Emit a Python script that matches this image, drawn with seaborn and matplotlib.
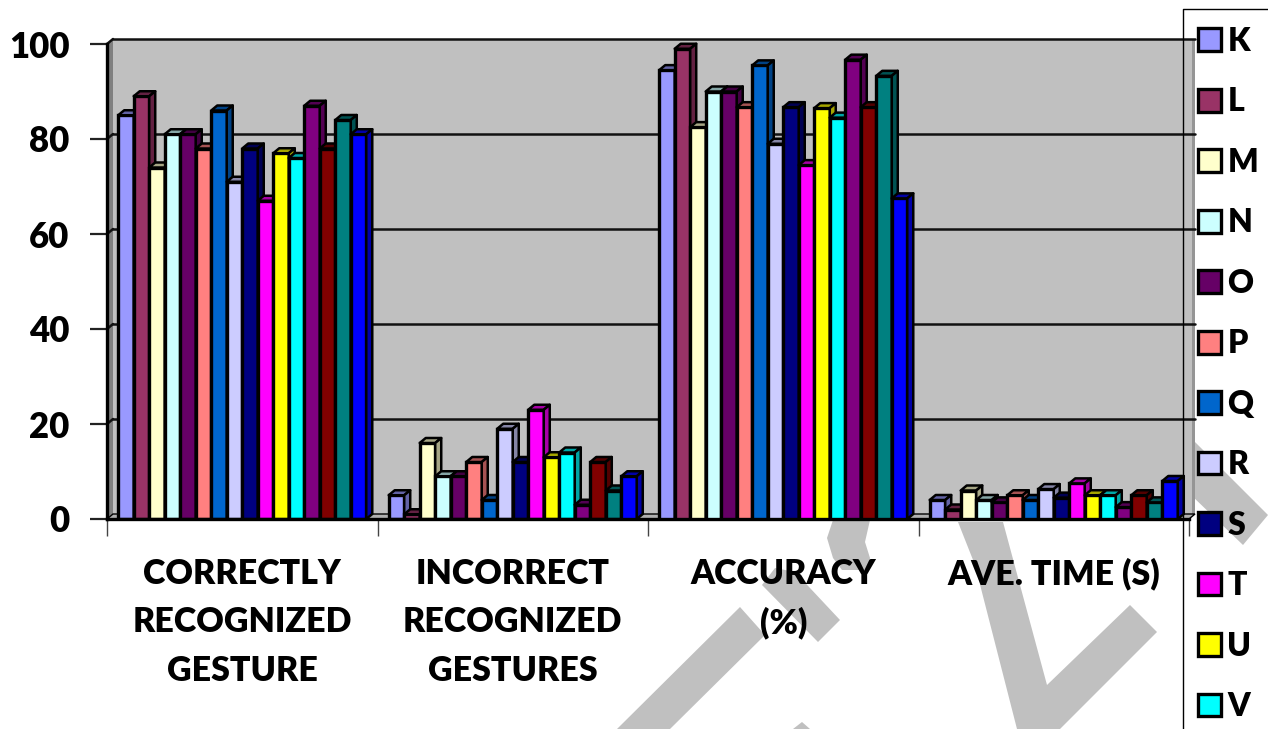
"""Grouped gesture recognition bars with the old spreadsheet 3D look."""

import matplotlib.pyplot as plt
import matplotlib.colors as mcolors
import pandas as pd
import seaborn as sns
from matplotlib.patches import Polygon, Rectangle
from matplotlib.transforms import Affine2D

MEASURES = [
    "CORRECTLY\nRECOGNIZED\nGESTURE",
    "INCORRECT\nRECOGNIZED\nGESTURES",
    "ACCURACY\n(%)",
    "AVE. TIME (S)",
]
LETTERS = ["K", "L", "M", "N", "O", "P", "Q", "R", "S", "T", "U", "V", "W", "X", "Y", "Z"]
COLORS = ["#9999FF", "#993366", "#FFFFCC", "#CCFFFF", "#660066", "#FF8080", "#0066CC", "#CCCCFF",
          "#000080", "#FF00FF", "#FFFF00", "#00FFFF", "#800080", "#800000", "#008080", "#0000FF"]
CORRECT = [85, 89, 74, 81, 81, 78, 86, 71, 78, 67, 77, 76, 87, 78, 84, 81]
INCORRECT = [5, 1, 16, 9, 9, 12, 4, 19, 12, 23, 13, 14, 3, 12, 6, 9]
ACCURACY = [94.5, 99, 82.5, 90, 90, 86.7, 95.5, 79, 86.7, 74.5, 86.5, 84.5, 96.7, 86.7, 93.3, 67.5]
AVE_TIME = [4, 2, 6, 4, 3.5, 5, 4, 6.3, 4.5, 7.5, 5, 5, 2.5, 5, 3.5, 8]
YTICKS = [0, 20, 40, 60, 80, 100]
LEGEND_SHOWN = 12  # the source image cuts the legend after V

W, H = 1268, 729
GREY = "#C0C0C0"
FONT = ["Lato", "DejaVu Sans"]

rows = []
for measure, values in zip(MEASURES, [CORRECT, INCORRECT, ACCURACY, AVE_TIME]):
    for letter, value in zip(LETTERS, values):
        rows.append({"measure": measure, "gesture": letter, "value": value})
df = pd.DataFrame(rows)

sns.set_theme(style="white")
plt.rcParams["font.family"] = FONT
plt.rcParams["font.weight"] = 800

fig = plt.figure(figsize=(W / 100, H / 100), dpi=100)
ax = fig.add_axes([107 / W, 1 - 519 / H, (1189 - 107) / W, (519 - 44) / H])
ax.patch.set_visible(False)

# watermark strokes sit behind everything, in image pixels
px = Affine2D().scale(1, -1).translate(0, H)
for pts in [
    [(958, 522), (975, 565), (1017, 729), (1060, 729), (1157, 632), (1130, 605), (1047, 685), (1003, 522)],
    [(1190, 437), (1268, 515), (1243, 545), (1190, 494)],
    [(833, 520), (827, 538), (833, 558), (842, 570), (868, 570), (870, 558), (865, 542), (870, 520)],
    [(840, 620), (818, 642), (762, 585), (775, 568), (795, 572)],
    [(740, 607), (765, 635), (670, 729), (617, 729)],
    [(793, 729), (802, 722), (810, 729)],
]:
    fig.add_artist(Polygon(pts, closed=True, transform=px, fc=GREY, ec="none", zorder=-5))

sns.barplot(
    data=df, x="measure", y="value", hue="gesture", palette=COLORS, width=0.917,
    saturation=1, edgecolor="black", linewidth=2.4, legend=False, ax=ax, zorder=5,
)
ax.set_xlim(-0.5, 3.5)
ax.set_ylim(0, 100)

# back wall, side wall and floor, offset up and to the right of the axes
dx, dy = 6, 5
to_px = ax.transData
x0, y0 = to_px.transform((-0.5, 0))
x1, y1 = to_px.transform((3.5, 100))
shift = Affine2D().translate(dx, dy)
ax.add_patch(Rectangle((x0, y0), x1 - x0, y1 - y0, transform=shift, fc=GREY, ec="none",
                       zorder=0, clip_on=False))
ax.add_patch(Rectangle((x1 + dx - 3, y0 + dy), 3, y1 - y0, transform=Affine2D(), fc="#959595",
                       ec="none", zorder=1, clip_on=False))
ax.add_patch(Polygon([(x0, y0), (x0 + dx, y0 + dy), (x0 + dx, y1 + dy), (x0, y1)],
                     transform=Affine2D(), fc="#808080", ec="none", zorder=1, clip_on=False))
ax.add_patch(Polygon([(x0, y0), (x0 + dx, y0 + dy), (x1 + dx, y0 + dy), (x1, y0)],
                     transform=Affine2D(), fc="#B0B0B0", ec="black", lw=1, zorder=1, clip_on=False))
for tick in YTICKS[1:]:
    _, yp = to_px.transform((0, tick))
    ax.plot([x0 + dx, x1 + dx], [yp + dy, yp + dy], transform=Affine2D(), color="#111111", lw=1.8,
            zorder=2, clip_on=False)
    ax.plot([x0, x0 + dx], [yp, yp + dy], transform=Affine2D(), color="#111111", lw=1.8,
            zorder=2, clip_on=False)

# fake the depth faces from the bars seaborn drew
bars = [p for p in ax.patches if isinstance(p, Rectangle) and p.get_zorder() == 5]
bars = sorted(bars, key=lambda b: b.get_x())
for i, bar in enumerate(bars):
    color = bar.get_facecolor()
    bar.set_zorder(10 + i)
    (xa, ya), (xb, yb) = to_px.transform([(bar.get_x(), 0), (bar.get_x() + bar.get_width(), bar.get_height())])
    dark = mcolors.to_rgb(color)
    dark = tuple(c * 0.65 for c in dark)
    for pts in [
        [(xa, yb), (xa + dx, yb + dy), (xb + dx, yb + dy), (xb, yb)],
        [(xb, ya), (xb + dx, ya + dy), (xb + dx, yb + dy), (xb, yb)],
    ]:
        ax.add_patch(Polygon(pts, transform=Affine2D(), fc=dark, ec="black", lw=1.8,
                             joinstyle="round", zorder=10 + i, clip_on=False))

sns.despine(ax=ax, top=True, right=True)
for side in ["left", "bottom"]:
    ax.spines[side].set_linewidth(2.4)
    ax.spines[side].set_color("black")
    ax.spines[side].set_zorder(40)

ax.set_xlabel("")
ax.set_ylabel("")
ax.set_yticks(YTICKS)
ax.tick_params(axis="y", length=12, width=1.6, color="#222222", left=True, pad=15, labelsize=25,
               labelcolor="black")
ax.tick_params(axis="x", which="major", length=0, pad=28, labelsize=24.5, labelcolor="black")
ax.set_xticks([-0.5, 0.5, 1.5, 2.5, 3.5], minor=True)
ax.tick_params(axis="x", which="minor", length=12, width=1, color="#444444", bottom=True)
for label in ax.get_xticklabels():
    label.set_linespacing(1.63)

# legend runs off the bottom of the image, same as the source
handles = [Rectangle((0, 0), 1, 1, fc=c, ec="black", lw=2.4) for c in COLORS[:LEGEND_SHOWN]]
fig.legend(
    handles, LETTERS[:LEGEND_SHOWN], loc="upper left", bbox_to_anchor=(1198 / W, 1 - 27 / H),
    frameon=False, fontsize=23, handlelength=0.72, handleheight=0.72, handletextpad=0.2,
    labelspacing=0.985, borderpad=0, borderaxespad=0, labelcolor="black",
)
fig.add_artist(plt.Line2D([1183, 1183, W], [H, 9, 9], transform=px, color="black", lw=1))

fig.savefig("out.png", dpi=100)
